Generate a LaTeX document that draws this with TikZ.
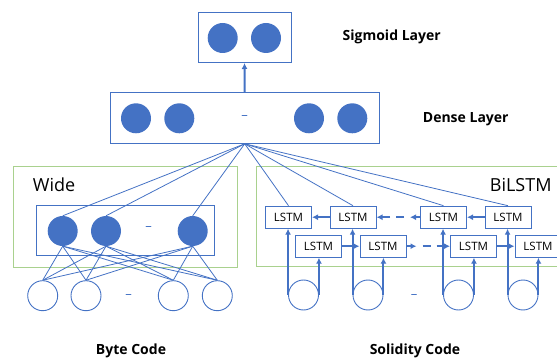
\documentclass[tikz,border=0pt]{standalone}
\usepackage{fontspec}
\setmainfont{Open Sans}
\usepackage{tikz}
\usetikzlibrary{arrows.meta,calc,positioning}
\definecolor{ublue}{HTML}{4472C4}
\definecolor{lgreen}{HTML}{A9D18E}

\begin{document}
\begin{tikzpicture}[x=1pt, y=-1pt,
  unit/.style={circle, fill=ublue, minimum size=30pt, inner sep=0pt},
  inunit/.style={circle, draw=ublue, line width=0.9pt, minimum size=30pt, inner sep=0pt},
  layer/.style={rectangle, draw=ublue, line width=1pt, inner sep=0pt},
  group/.style={rectangle, draw=lgreen, line width=0.9pt, inner sep=0pt},
  cell/.style={rectangle, draw=ublue, line width=1pt, fill=white, minimum width=46pt, minimum height=22pt, inner sep=0pt, font=\fontsize{11.5}{12}\selectfont},
  gap/.style={text=ublue, font=\fontsize{13}{13}\selectfont, inner sep=0pt},
  link/.style={ublue, line width=0.8pt},
  flow/.style={ublue, line width=2pt, -{Latex[length=6pt,width=6pt]}},
  title/.style={font=\bfseries\fontsize{14}{15}\selectfont, inner sep=0pt},
  tag/.style={font=\fontsize{18}{20}\selectfont, inner sep=0pt}
]
\useasboundingbox (0,0) rectangle (557,358);

% output layers
\node[layer, minimum width=93pt, minimum height=50pt] (sig) at (244.5,37.5) {};
\node[unit] (s1) at (222.7,38) {};
\node[unit] (s2) at (266,38) {};
\node[title] (sigtxt) at (391.7,37) {Sigmoid Layer};

\node[layer, minimum width=269pt, minimum height=51pt] (dense) at (244.7,117.8) {};
\node[unit] (d1) at (136,118.3) {};
\node[unit] (d2) at (179.3,118.3) {};
\node[gap] (dgap) at (244.7,118) {--};
\node[unit] (d3) at (309,118.3) {};
\node[unit] (d4) at (352.3,118.3) {};
\node[title, anchor=west] (densetxt) at (422.7,119) {Dense Layer};

\draw[flow] (dense.north) -- (sig.south);

% wide part
\node[group, minimum width=224pt, minimum height=101pt] (wide) at (125.5,216.7) {};
\node[tag, anchor=west] (widetxt) at (32.7,185) {Wide};
\node[layer, minimum width=178pt, minimum height=50pt] (wbox) at (125.5,230.9) {};
\node[unit] (w1) at (62.7,231) {};
\node[unit] (w2) at (106,231) {};
\node[gap] (wgap) at (148.7,229) {--};
\node[unit] (w3) at (192.7,231) {};

\node[inunit] (i1) at (42.7,295.7) {};
\node[inunit] (i2) at (86,295.7) {};
\node[gap] (igap) at (128.7,296.7) {--};
\node[inunit] (i3) at (173.3,295.7) {};
\node[inunit] (i4) at (217.3,295.7) {};
\node[title] (bytetxt) at (131,351) {Byte Code};

\foreach \w in {w1,w2,w3}
  \foreach \i in {i1,i2,i3,i4}
    \draw[link] (\w.south) -- (\i.north);

% bilstm part
\node[group, minimum width=306pt, minimum height=100pt] (bilstm) at (409,216.7) {};
\node[tag, anchor=east] (bitxt) at (551.7,185) {BiLSTM};

\node[cell] (t1) at (288.5,217.2) {LSTM};
\node[cell] (t2) at (353,217.2) {LSTM};
\node[cell] (t3) at (443.5,217.2) {LSTM};
\node[cell] (t4) at (508,217.2) {LSTM};
\node[cell] (b1) at (318.5,246.2) {LSTM};
\node[cell] (b2) at (383,246.2) {LSTM};
\node[cell] (b3) at (473.5,246.2) {LSTM};
\node[cell] (b4) at (538,246.2) {LSTM};

\node[inunit] (c1) at (303.5,295) {};
\node[inunit] (c2) at (368,295) {};
\node[gap] (cgap) at (414,296.7) {--};
\node[inunit] (c3) at (458.5,295) {};
\node[inunit] (c4) at (523,295) {};
\node[title] (soltxt) at (415,351) {Solidity Code};

\draw[flow] (t2.west) -- (t1.east);
\draw[flow] (t3.west) -- ($(t3.west)+(-10,0)$);
\draw[flow, dash pattern=on 8pt off 6pt] ($(t3.west)+(-16,0)$) -- (t2.east);
\draw[flow] (t4.west) -- (t3.east);

\draw[flow] (b1.east) -- (b2.west);
\draw[flow] (b2.east) -- ($(b2.east)+(10,0)$);
\draw[flow, dash pattern=on 8pt off 6pt] ($(b2.east)+(16,0)$) -- (b3.west);
\draw[flow] (b3.east) -- (b4.west);

\foreach \k in {1,2,3,4} {
  \draw[flow] (c\k.west) -- (c\k.west |- t\k.south);
  \draw[flow] (c\k.east) -- (c\k.east |- b\k.south);
}

% dense connections
\foreach \n in {w1,w2,w3,t1,t2,t3,t4}
  \draw[link] (dense.south) -- (\n.north);
\end{tikzpicture}
\end{document}
